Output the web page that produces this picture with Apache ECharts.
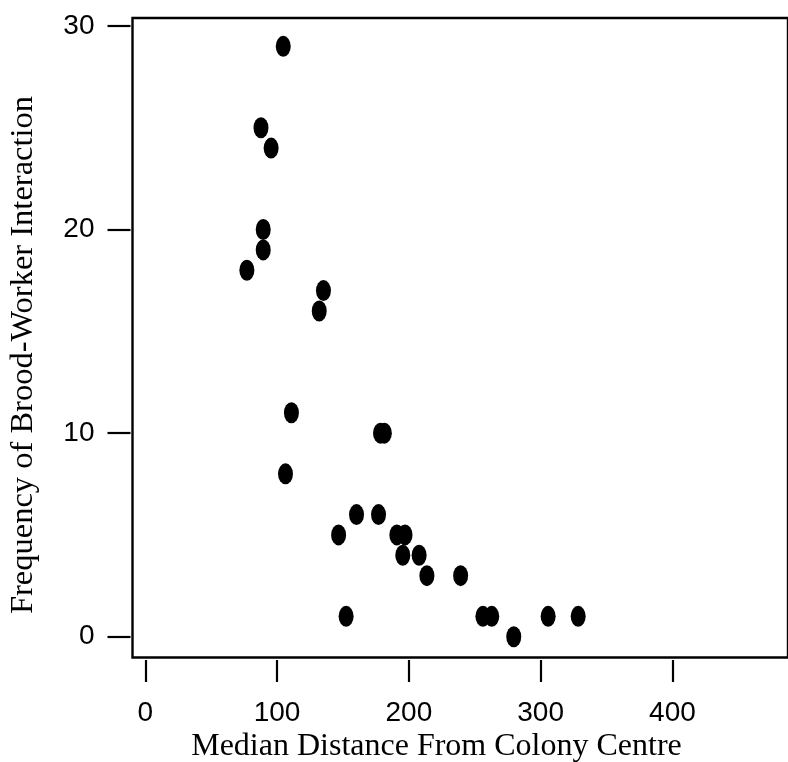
<!DOCTYPE html>
<html>
<head>
<meta charset="utf-8">
<title>Brood-worker interaction vs distance</title>
<script src="https://cdn.jsdelivr.net/npm/echarts@6/dist/echarts.min.js"></script>
<style>
  html, body { margin: 0; padding: 0; background: #fff; }
  #chart { width: 788px; height: 762px; }
</style>
</head>
<body>
<div id="chart"></div>
<script>
// Median distance from colony centre for each worker
const medianDistance = [
  104.7, 87.8, 95.5, 89.5, 89.5, 77.1, 135.2, 132.0, 110.9, 178.5,
  181.4, 106.4, 146.7, 160.3, 177.0, 190.9, 197.1, 195.4, 207.8, 213.7,
  239.3, 152.4, 256.2, 262.9, 279.6, 305.7, 328.5
];
// Frequency of brood-worker interaction for the same workers
const interactionFreq = [
  29, 25, 24, 20, 19, 18, 17, 16, 11, 10,
  10, 8, 5, 6, 6, 5, 5, 4, 4, 3,
  3, 1, 1, 1, 0, 1, 1
];
const xTickValues = [0, 100, 200, 300, 400];
const yTickValues = [0, 10, 20, 30];

const xTitle = 'Median Distance From Colony Centre';
const yTitle = 'Frequency of Brood-Worker Interaction';

const points = medianDistance.map((d, i) => [d, interactionFreq[i]]);

const tickFont = '"Liberation Sans Narrow", "Arial Narrow", "Liberation Sans", Arial, sans-serif';
const titleFont = '"Liberation Serif", "Times New Roman", serif';

// unit ellipse, stretched to the symbol size
const ellipsePath = 'path://M1,0A1,1,0,1,1,1,2A1,1,0,1,1,1,0Z';

const chart = echarts.init(document.getElementById('chart'), null, { renderer: 'canvas' });

chart.setOption({
  animation: false,
  backgroundColor: '#ffffff',
  grid: {
    left: 132.5,
    top: 18,
    right: -12,
    bottom: 104.5,
    show: true,
    borderColor: '#000',
    borderWidth: 2.4,
    backgroundColor: 'transparent'
  },
  xAxis: {
    type: 'value',
    min: -9.69,
    max: 487.7,
    offset: 2.5,
    splitLine: { show: false },
    axisLine: { show: false, onZero: false },
    axisTick: {
      show: true,
      length: 22,
      customValues: xTickValues,
      lineStyle: { color: '#000', width: 2.2 }
    },
    axisLabel: {
      customValues: xTickValues,
      margin: 39,
      color: '#000',
      fontSize: 28,
      fontFamily: tickFont
    }
  },
  yAxis: {
    type: 'value',
    min: -1.02,
    max: 30.39,
    offset: 2,
    splitLine: { show: false },
    axisLine: { show: false, onZero: false },
    axisTick: {
      show: true,
      length: 23,
      customValues: yTickValues,
      lineStyle: { color: '#000', width: 2.2 }
    },
    axisLabel: {
      customValues: yTickValues,
      margin: 36,
      color: '#000',
      fontSize: 28,
      fontFamily: tickFont,
      padding: [4, 0, 0, 0]
    }
  },
  graphic: [
    {
      type: 'text',
      x: 436.5,
      y: 747,
      style: {
        text: xTitle,
        fill: '#000',
        font: '32px ' + titleFont,
        align: 'center',
        verticalAlign: 'middle'
      }
    },
    {
      type: 'text',
      x: 23,
      y: 355,
      rotation: Math.PI / 2,
      style: {
        text: yTitle,
        fill: '#000',
        font: '32.5px ' + titleFont,
        align: 'center',
        verticalAlign: 'middle'
      }
    }
  ],
  series: [
    {
      type: 'scatter',
      data: points,
      symbol: ellipsePath,
      symbolSize: [15, 21],
      itemStyle: { color: '#000', opacity: 1 },
      emphasis: { disabled: true }
    }
  ]
});
</script>
</body>
</html>
